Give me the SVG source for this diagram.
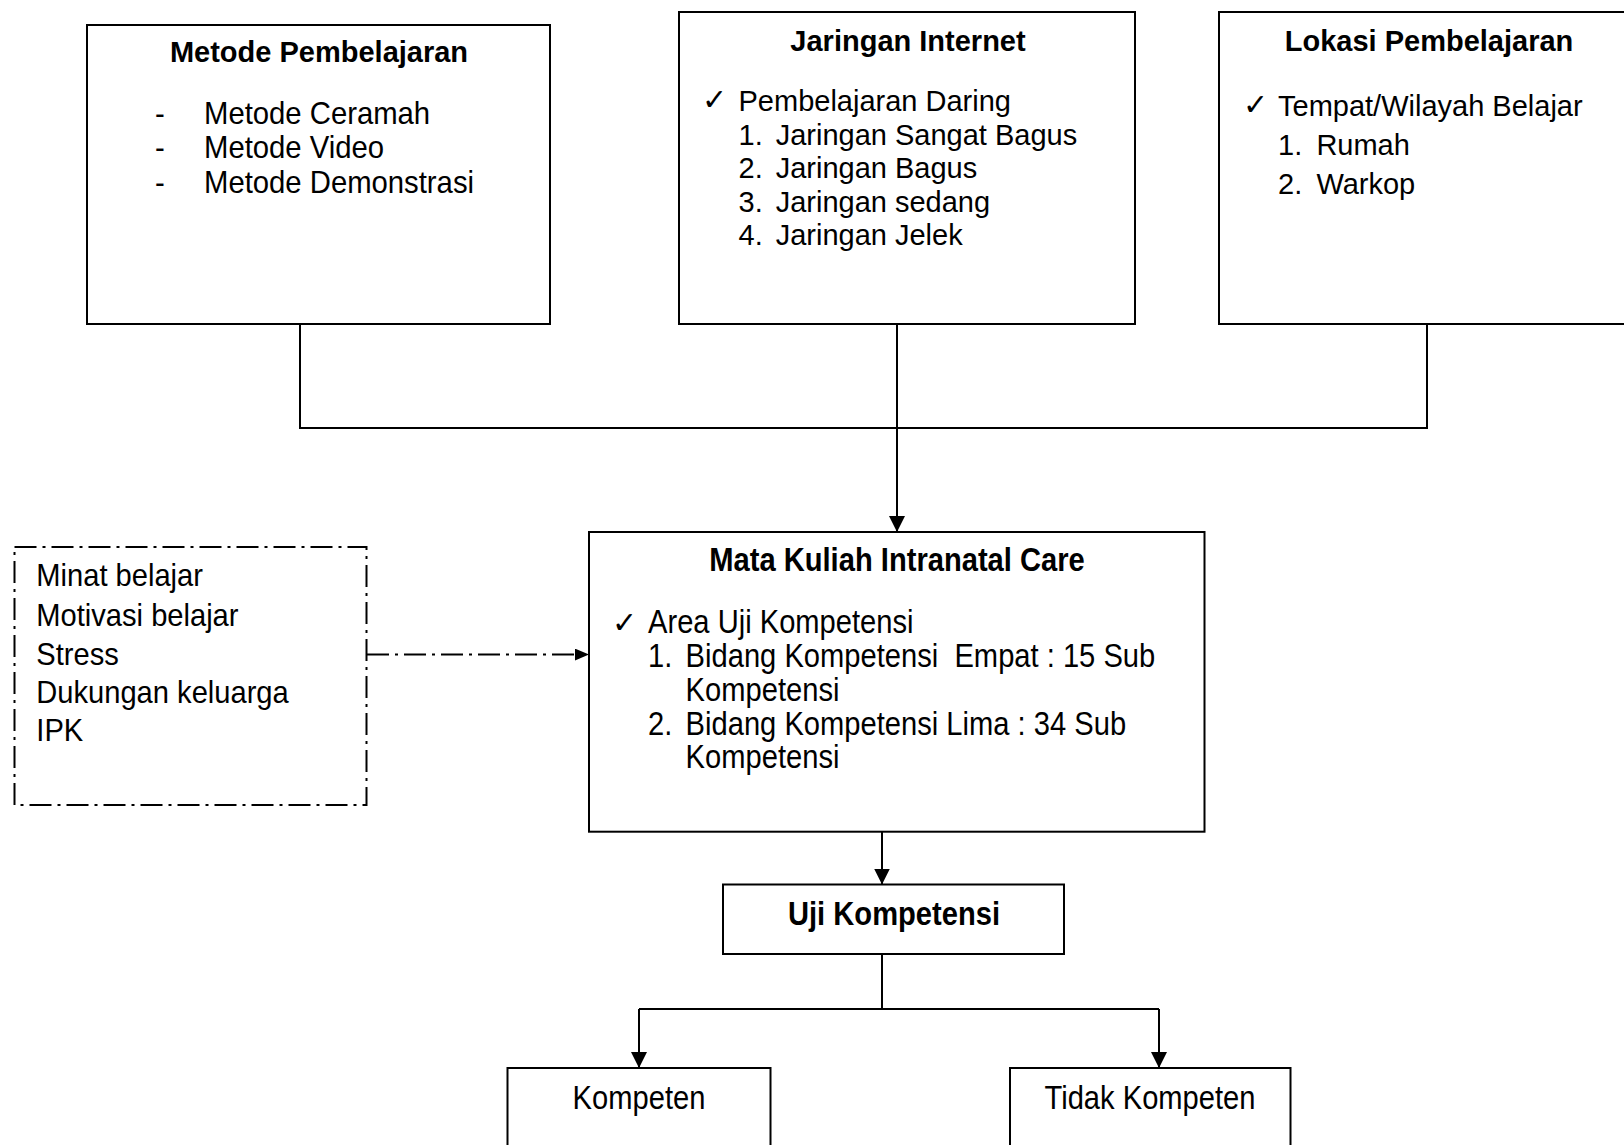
<svg xmlns="http://www.w3.org/2000/svg" width="1624" height="1145" viewBox="0 0 1624 1145">
<defs>
<style>
.box{fill:#fff;stroke:#000;stroke-width:2}
.dbox{fill:none;stroke:#000;stroke-width:2;stroke-dasharray:22 6 3 6}
.ln{fill:none;stroke:#000;stroke-width:2}
.dln{fill:none;stroke:#000;stroke-width:2;stroke-dasharray:22 6 3 6}
text{font-family:"Liberation Sans",Arial,sans-serif;fill:#000;white-space:pre}
.t{font-size:29px}
.tb{font-size:29px;font-weight:bold}
.m{font-size:32px}
.c{font-size:34px}
.cb{font-size:34px;font-weight:bold}
.ck{font-family:"DejaVu Sans",sans-serif;font-size:30px;font-weight:bold}
</style>
<marker id="ah" markerUnits="userSpaceOnUse" markerWidth="16" markerHeight="16" refX="16" refY="8" orient="auto">
<path d="M0,0 L16,8 L0,16 z" fill="#000"/>
</marker>
<marker id="ah2" markerUnits="userSpaceOnUse" markerWidth="14" markerHeight="12" refX="14" refY="6" orient="auto">
<path d="M0,0 L14,6 L0,12 z" fill="#000"/>
</marker>
</defs>
<rect width="1624" height="1145" fill="#fff"/>

<g id="connectors">
<path class="ln" d="M300,324 V428 H1427 V324"/>
<path class="ln" d="M897,324 V532" marker-end="url(#ah)"/>
<path class="dln" d="M367,654.6 H589" marker-end="url(#ah2)"/>
<path class="ln" d="M882,832 V884.5" marker-end="url(#ah)"/>
<path class="ln" d="M882,954 V1009"/>
<path class="ln" d="M639,1009 H1159"/>
<path class="ln" d="M639,1009 V1068" marker-end="url(#ah)"/>
<path class="ln" d="M1159,1009 V1068" marker-end="url(#ah)"/>
</g>

<g id="metode">
<rect class="box" x="87" y="25" width="463" height="299"/>
<text class="tb" x="319" y="62" text-anchor="middle">Metode Pembelajaran</text>
<text class="m" transform="translate(155,124) scale(0.915,1)">-</text>
<text class="m" transform="translate(204,124) scale(0.915,1)">Metode Ceramah</text>
<text class="m" transform="translate(155,158) scale(0.915,1)">-</text>
<text class="m" transform="translate(204,158) scale(0.915,1)">Metode Video</text>
<text class="m" transform="translate(155,192.5) scale(0.915,1)">-</text>
<text class="m" transform="translate(204,192.5) scale(0.915,1)">Metode Demonstrasi</text>
</g>

<g id="jaringan">
<rect class="box" x="679" y="12" width="456" height="312"/>
<text class="tb" x="908" y="51" text-anchor="middle">Jaringan Internet</text>
<text class="ck" x="702" y="110">✓</text>
<text class="t" x="738.5" y="110.5">Pembelajaran Daring</text>
<text class="t" x="738.5" y="144.6">1.</text>
<text class="t" x="775.7" y="144.6">Jaringan Sangat Bagus</text>
<text class="t" x="738.5" y="177.8">2.</text>
<text class="t" x="775.7" y="177.8">Jaringan Bagus</text>
<text class="t" x="738.5" y="212">3.</text>
<text class="t" x="775.7" y="212">Jaringan sedang</text>
<text class="t" x="738.5" y="245">4.</text>
<text class="t" x="775.7" y="245">Jaringan Jelek</text>
</g>

<g id="lokasi">
<rect class="box" x="1219" y="12" width="430" height="312"/>
<text class="tb" x="1429" y="51" text-anchor="middle">Lokasi Pembelajaran</text>
<text class="ck" x="1243" y="115">✓</text>
<text class="t" x="1278" y="115.6">Tempat/Wilayah Belajar</text>
<text class="t" x="1278" y="155">1.</text>
<text class="t" x="1316.4" y="155">Rumah</text>
<text class="t" x="1278" y="194.4">2.</text>
<text class="t" x="1316.4" y="194.4">Warkop</text>
</g>

<g id="faktor">
<rect class="dbox" x="14.5" y="547" width="352" height="258"/>
<text class="m" transform="translate(36.3,586) scale(0.91,1)">Minat belajar</text>
<text class="m" transform="translate(36.3,626) scale(0.91,1)">Motivasi belajar</text>
<text class="m" transform="translate(36.3,665) scale(0.91,1)">Stress</text>
<text class="m" transform="translate(36.3,703) scale(0.91,1)">Dukungan keluarga</text>
<text class="m" transform="translate(36.3,741) scale(0.91,1)">IPK</text>
</g>

<g id="matakuliah">
<rect class="box" x="589" y="532" width="615.5" height="299.7"/>
<text class="cb" transform="translate(897,571) scale(0.857,1)" text-anchor="middle">Mata Kuliah Intranatal Care</text>
<text class="ck" x="612" y="633">✓</text>
<text class="c" transform="translate(648,633) scale(0.857,1)">Area Uji Kompetensi</text>
<text class="c" transform="translate(648,667) scale(0.857,1)">1.</text>
<text class="c" transform="translate(685.6,667) scale(0.857,1)">Bidang Kompetensi  Empat : 15 Sub</text>
<text class="c" transform="translate(685.6,701) scale(0.857,1)">Kompetensi</text>
<text class="c" transform="translate(648,735) scale(0.857,1)">2.</text>
<text class="c" transform="translate(685.6,735) scale(0.857,1)">Bidang Kompetensi Lima : 34 Sub</text>
<text class="c" transform="translate(685.6,768) scale(0.857,1)">Kompetensi</text>
</g>

<g id="uji">
<rect class="box" x="723" y="884.5" width="341" height="69.5"/>
<text class="cb" transform="translate(894,925) scale(0.857,1)" text-anchor="middle">Uji Kompetensi</text>
</g>

<g id="kompeten">
<rect class="box" x="507.5" y="1068" width="263" height="100"/>
<text class="c" transform="translate(639,1109) scale(0.857,1)" text-anchor="middle">Kompeten</text>
</g>

<g id="tidak">
<rect class="box" x="1010" y="1068" width="280.5" height="100"/>
<text class="c" transform="translate(1150,1109) scale(0.857,1)" text-anchor="middle">Tidak Kompeten</text>
</g>
</svg>
